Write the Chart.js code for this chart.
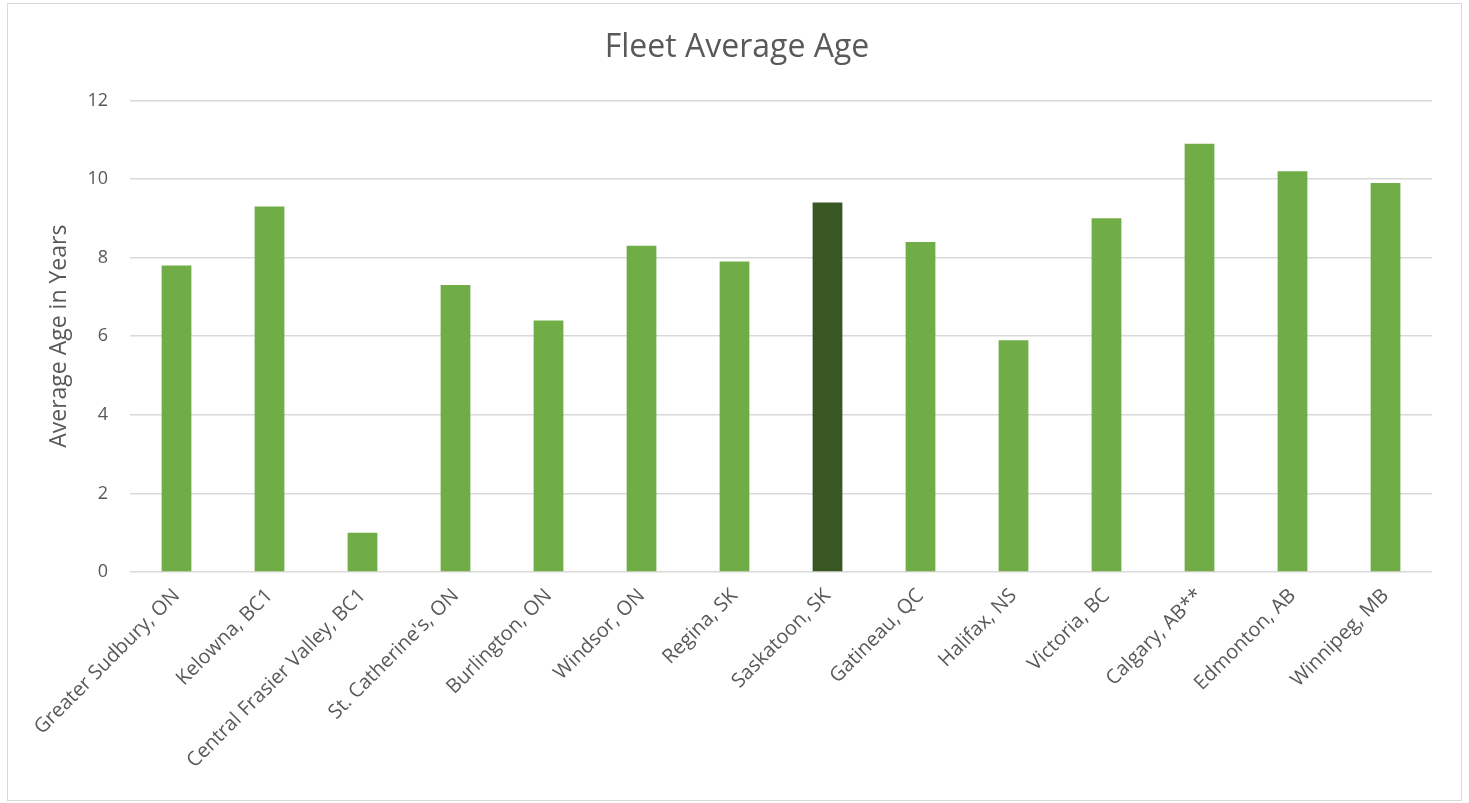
<!DOCTYPE html>
<html lang="en">
<head>
    <meta charset="UTF-8">
    <title>Fleet Average Age</title>
    <script src="https://cdn.jsdelivr.net/npm/chart.js"></script>
    <style>
        body { margin: 0; background: #fff; }
        .chartBox {
            position: absolute;
            left: 7px;
            top: 3px;
            width: 1453px;
            height: 796px;
            border: 1px solid #d9d9d9;
        }
    </style>
</head>
<body>
<div class="chartBox">
    <canvas id="fleetChart"></canvas>
</div>
<script>
    var cities = ["Greater Sudbury, ON", "Kelowna, BC1", "Central Frasier Valley, BC1", "St. Catherine's, ON",
        "Burlington, ON", "Windsor, ON", "Regina, SK", "Saskatoon, SK", "Gatineau, QC", "Halifax, NS",
        "Victoria, BC", "Calgary, AB**", "Edmonton, AB", "Winnipeg, MB"];
    var avgAge = [7.8, 9.3, 1.0, 7.3, 6.4, 8.3, 7.9, 9.4, 8.4, 5.9, 9.0, 10.9, 10.2, 9.9];
    var highlightCity = "Saskatoon, SK";

    var green = "#70ad47";
    var darkGreen = "#385723";
    var textColor = "#595959";

    var barColors = [];
    for (var i = 0; i < cities.length; i++) {
        barColors.push(cities[i] === highlightCity ? darkGreen : green);
    }

    Chart.defaults.font.family = "'Open Sans', 'Noto Sans', sans-serif";
    Chart.defaults.color = textColor;

    new Chart(document.getElementById("fleetChart"), {
        type: "bar",
        data: {
            labels: cities,
            datasets: [{
                label: "Average Age",
                data: avgAge,
                backgroundColor: barColors,
                barPercentage: 0.32,
                categoryPercentage: 1.0
            }]
        },
        options: {
            responsive: true,
            maintainAspectRatio: false,
            animation: false,
            layout: {
                padding: { left: 34, right: 29, top: 0, bottom: 0 }
            },
            plugins: {
                legend: { display: false },
                tooltip: { enabled: false },
                title: {
                    display: true,
                    text: "Fleet Average Age",
                    color: textColor,
                    font: { size: 32, weight: "normal" },
                    padding: { top: 25, bottom: 33 }
                }
            },
            scales: {
                x: {
                    grid: { display: false },
                    border: { display: false },
                    ticks: {
                        color: textColor,
                        font: { size: 20 },
                        maxRotation: 45,
                        minRotation: 45,
                        autoSkip: false,
                        padding: 4
                    },
                    afterFit: function(scale) { scale.height = 228; }
                },
                y: {
                    min: 0,
                    max: 12,
                    ticks: {
                        stepSize: 2,
                        color: textColor,
                        font: { size: 18 },
                        padding: 22
                    },
                    grid: { color: "#d9d9d9", lineWidth: 1.5, drawTicks: false },
                    border: { display: false },
                    title: {
                        display: true,
                        text: "Average Age in Years",
                        color: textColor,
                        font: { size: 23 },
                        padding: { top: 4, bottom: 0 }
                    },
                    afterFit: function(scale) { scale.width = 88; }
                }
            }
        }
    });
</script>
</body>
</html>
